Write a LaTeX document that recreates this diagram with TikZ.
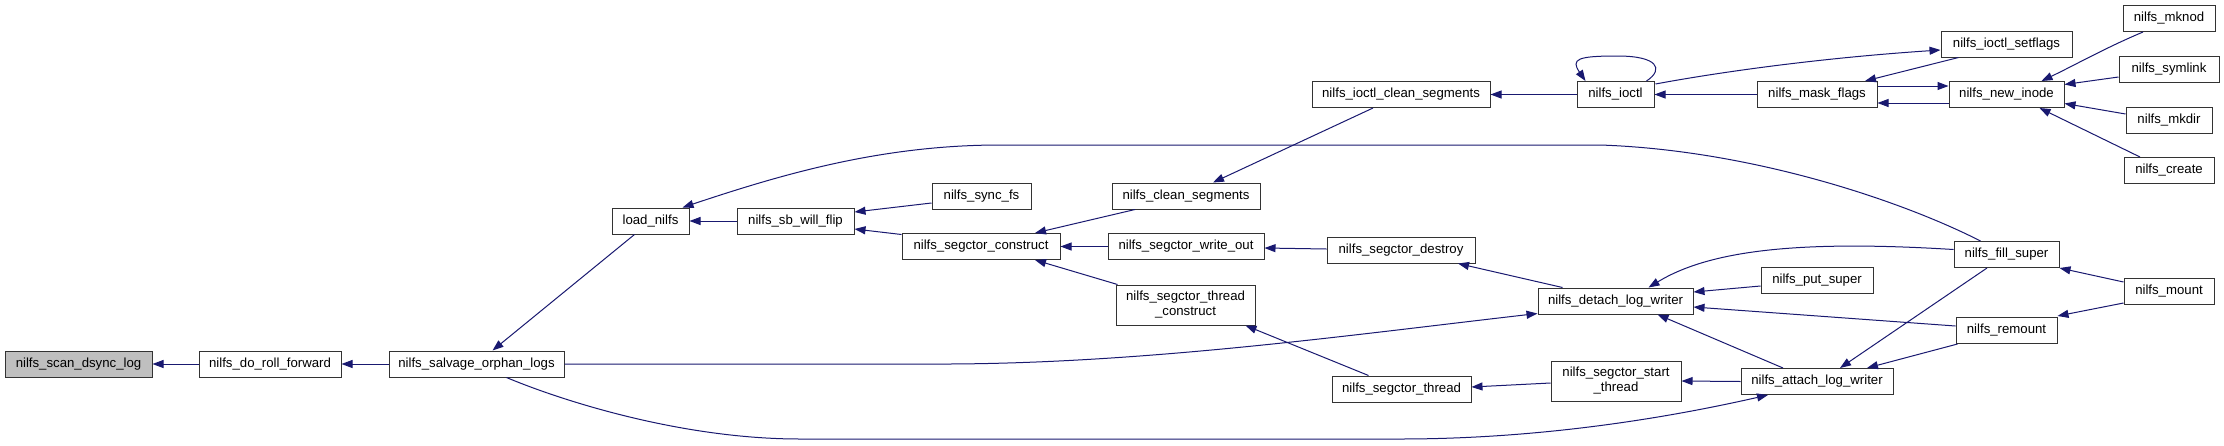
\documentclass[tikz,border=0pt]{standalone}
\usepackage{fontspec}
\setmainfont{Liberation Sans}
\usetikzlibrary{arrows.meta,calc}
\definecolor{mblue}{HTML}{191970}
\definecolor{rootgray}{HTML}{BFBFBF}
\tikzset{
  box/.style={draw=black!80, line width=1pt, fill=white, inner sep=0pt, minimum height=26pt,
    font=\fontsize{13.2}{15}\selectfont, align=center},
  edge/.style={draw=mblue, line width=1pt, {Triangle[length=11pt,width=8pt]}-}
}
\begin{document}
\begin{tikzpicture}[x=1pt,y=-1pt]
\useasboundingbox (0,0) rectangle (2224,445);
\fill[white] (0,0) rectangle (2224,445);
% nodes
\node[box, fill=rootgray, minimum width=147pt] (scan) at (78.5,364) {nilfs\_scan\_dsync\_log};
\node[box, minimum width=142pt] (roll) at (270,364) {nilfs\_do\_roll\_forward};
\node[box, minimum width=175pt] (salvage) at (476.5,364) {nilfs\_salvage\_orphan\_logs};
\node[box, minimum width=77pt] (load) at (650.5,221) {load\_nilfs};
\node[box, minimum width=117pt] (flip) at (795.5,221) {nilfs\_sb\_will\_flip};
\node[box, minimum width=99pt] (sync) at (981.5,196) {nilfs\_sync\_fs};
\node[box, minimum width=158pt] (construct) at (981,246.5) {nilfs\_segctor\_construct};
\node[box, minimum width=148pt] (clean) at (1186,196) {nilfs\_clean\_segments};
\node[box, minimum width=156pt] (writeout) at (1186,246.5) {nilfs\_segctor\_write\_out};
\node[box, minimum width=139pt, minimum height=40pt] (threadcons) at (1185.5,305) {nilfs\_segctor\_thread\\\_construct};
\node[box, minimum width=148pt] (destroy) at (1401,250) {nilfs\_segctor\_destroy};
\node[box, minimum width=139pt] (sthread) at (1401.5,389) {nilfs\_segctor\_thread};
\node[box, minimum width=178pt] (ioctlclean) at (1401,94.5) {nilfs\_ioctl\_clean\_segments};
\node[box, minimum width=77pt] (ioctl) at (1615.5,94.5) {nilfs\_ioctl};
\node[box, minimum width=120pt] (mask) at (1817,94.5) {nilfs\_mask\_flags};
\node[box, minimum width=131pt] (setflags) at (2006.5,44) {nilfs\_ioctl\_setflags};
\node[box, minimum width=115pt] (newinode) at (2006.5,94.5) {nilfs\_new\_inode};
\node[box, minimum width=92pt] (mknod) at (2169,18.5) {nilfs\_mknod};
\node[box, minimum width=100pt] (symlink) at (2169,69.5) {nilfs\_symlink};
\node[box, minimum width=86pt] (mkdir) at (2169,120) {nilfs\_mkdir};
\node[box, minimum width=90pt] (create) at (2169,170.5) {nilfs\_create};
\node[box, minimum width=155pt] (detach) at (1615.5,301) {nilfs\_detach\_log\_writer};
\node[box, minimum width=112pt] (putsuper) at (1817,280) {nilfs\_put\_super};
\node[box, minimum width=105pt] (fillsuper) at (2006.5,254.5) {nilfs\_fill\_super};
\node[box, minimum width=90pt] (mount) at (2169,291.5) {nilfs\_mount};
\node[box, minimum width=101pt] (remount) at (2006.5,330.5) {nilfs\_remount};
\node[box, minimum width=130pt, minimum height=40pt] (startthread) at (1616,381) {nilfs\_segctor\_start\\\_thread};
\node[box, minimum width=152pt] (attach) at (1817,381.5) {nilfs\_attach\_log\_writer};
% edges (arrow at callee end)
\draw[edge] (scan.east) -- (roll.west);
\draw[edge] (roll.east) -- (salvage.west);
\draw[edge] ($(salvage.north)+(16,0)$) -- ($(load.south)+(-16,0)$);
\draw[edge] (load.east) -- (flip.west);
\draw[edge] ($(load.north)+(32,0)$) .. controls (780,175) and (880,145) .. (1000,145) -- (1600,145) .. controls (1750,150) and (1900,200) .. ($(fillsuper.north)+(-26,0)$);
\draw[edge] ($(flip.east)+(0,-9)$) -- ($(sync.west)+(0,7)$);
\draw[edge] ($(flip.east)+(0,8)$) -- ($(construct.north west)+(0,1.5)$);
\draw[edge] ($(construct.north)+(54,0)$) -- ($(clean.south)+(-51,0)$);
\draw[edge] ($(clean.north)+(27,0)$) -- ($(ioctlclean.south)+(-28,0)$);
\draw[edge] (ioctlclean.east) -- (ioctl.west);
\draw[edge] ($(ioctl.north)+(-30,0)$) .. controls +(-15,-22) and +(-40,0) .. ($(ioctl.north)+(2,-25)$) .. controls +(40,0) and +(18,-12) .. ($(ioctl.north)+(31,0)$);
\draw[edge] (ioctl.east) -- (mask.west);
\draw[edge] ($(setflags.west)+(0,6)$) .. controls (1820,58) and (1720,72) .. ($(ioctl.north east)+(1,3)$);
\draw[edge] ($(mask.north)+(48,0)$) -- ($(setflags.south)+(-48,0)$);
\draw[edge] ($(newinode.west)+(0,-8.5)$) -- ($(mask.east)+(0,-8.5)$);
\draw[edge] ($(mask.east)+(0,8.5)$) -- ($(newinode.west)+(0,8.5)$);
\draw[edge] ($(newinode.north)+(35,0)$) .. controls (2075,65) and (2105,48) .. ($(mknod.south)+(-26,0)$);
\draw[edge] ($(newinode.east)+(0,-10)$) -- ($(symlink.west)+(0,7.5)$);
\draw[edge] ($(newinode.east)+(0,9)$) -- ($(mkdir.west)+(0,-6)$);
\draw[edge] ($(newinode.south)+(33,0)$) -- ($(create.north)+(-29,0)$);
\draw[edge] (construct.east) -- (writeout.west);
\draw[edge] ($(construct.south)+(54,0)$) -- ($(threadcons.north)+(-68,0)$);
\draw[edge] ($(writeout.east)+(0,1.5)$) -- ($(destroy.west)+(0,-1)$);
\draw[edge] ($(threadcons.south)+(60,0)$) -- ($(sthread.north)+(-33,0)$);
\draw[edge] ($(destroy.south)+(57,0)$) -- ($(detach.north)+(-53,0)$);
\draw[edge] ($(detach.south west)+(0,-1)$) .. controls (1350,335) and (1150,363) .. (950,364) -- (salvage.east);
\draw[edge] ($(attach.south)+(-49,0)$) .. controls (1680,415) and (1550,439) .. (1400,439) -- (800,439) .. controls (680,439) and (560,400) .. ($(salvage.south)+(30,0)$);
\draw[edge] ($(detach.north)+(33,0)$) .. controls (1710,250) and (1800,240) .. ($(fillsuper.west)+(0,-5)$);
\draw[edge] ($(detach.east)+(0,-9)$) -- ($(putsuper.west)+(0,6)$);
\draw[edge] ($(detach.east)+(0,6)$) -- ($(remount.west)+(0,-4.5)$);
\draw[edge] ($(detach.south)+(42,0)$) -- ($(attach.north)+(-34,0)$);
\draw[edge] ($(sthread.east)+(0,-2)$) -- ($(startthread.west)+(0,2)$);
\draw[edge] (startthread.east) -- (attach.west);
\draw[edge] ($(attach.north)+(23,0)$) -- ($(fillsuper.south)+(-19.5,0)$);
\draw[edge] ($(attach.north)+(50,0)$) -- ($(remount.south west)+(2,0)$);
\draw[edge] (fillsuper.south east) -- ($(mount.west)+(0,-9.5)$);
\draw[edge] ($(remount.north east)+(0,-1)$) -- ($(mount.west)+(0,11.5)$);
\end{tikzpicture}
\end{document}
